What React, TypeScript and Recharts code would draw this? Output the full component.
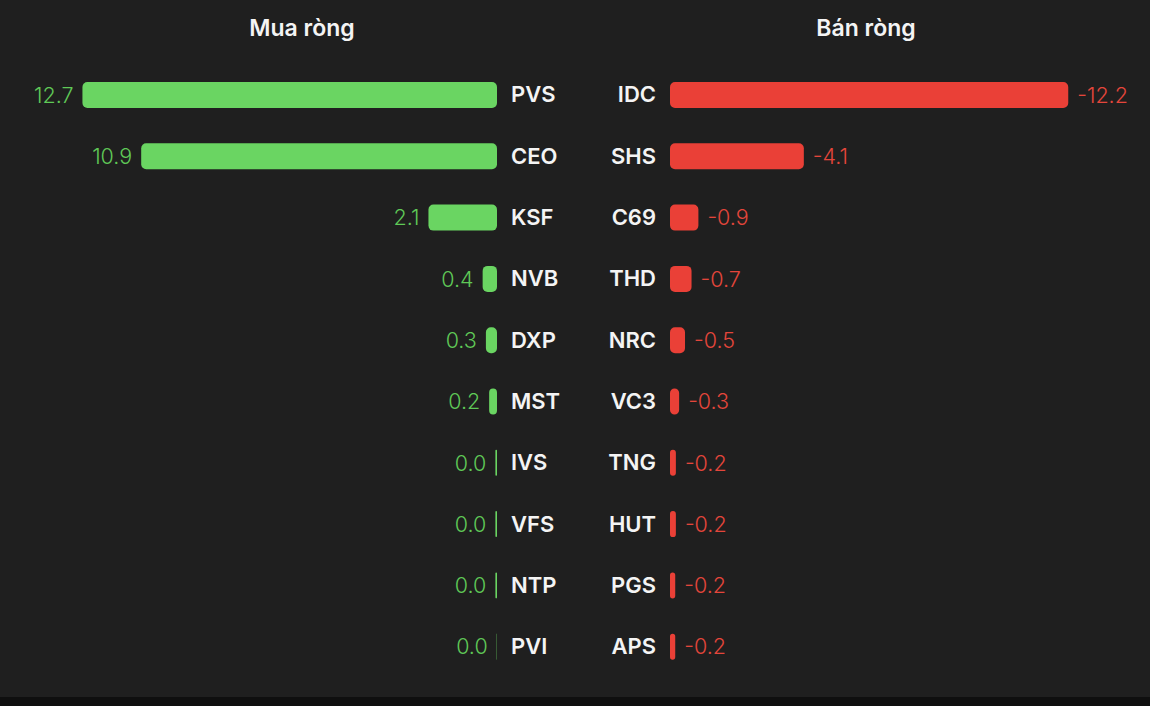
import { BarChart, Bar, XAxis, YAxis, LabelList } from 'recharts';

// Mua ròng (net buy), tỷ đồng
const buyCodes = ['PVS', 'CEO', 'KSF', 'NVB', 'DXP', 'MST', 'IVS', 'VFS', 'NTP', 'PVI'];
const buyValues = [12.7, 10.9, 2.1, 0.44, 0.34, 0.24, 0.049, 0.049, 0.049, 0.01];

// Bán ròng (net sell)
const sellCodes = ['IDC', 'SHS', 'C69', 'THD', 'NRC', 'VC3', 'TNG', 'HUT', 'PGS', 'APS'];
const sellValues = [-12.2, -4.1, -0.87, -0.66, -0.46, -0.28, -0.18, -0.18, -0.16, -0.16];

const GREEN = '#6ad562';
const GREEN_TEXT = '#5fc957';
const RED = '#ea4037';
const RED_TEXT = '#e4463b';
const FONT = 'Inter, "Noto Sans", sans-serif';

const buyData = buyCodes.map((code, i) => ({ code, value: buyValues[i] }));
const sellData = sellCodes.map((code, i) => ({ code, value: sellValues[i] }));

// value label placed just past the far end of the bar
const makeLabel = (side: 'left' | 'right', color: string) => (props: any) => {
    const { x, y, width, height, value } = props;
    const x0 = Math.min(x, x + width);
    const x1 = Math.max(x, x + width);
    const tx = side === 'left' ? x0 - 9 : x1 + 9;
    return (
        <text
            x={tx}
            y={y + height / 2}
            dy="0.36em"
            textAnchor={side === 'left' ? 'end' : 'start'}
            fill={color}
            fontSize={21.5}
            fontWeight={300}
        >
            {Number(value).toFixed(1)}
        </text>
    );
};

const tickStyle = { fill: '#f4f4f4', fontSize: 22, fontWeight: 600 };

function Title({ text, center }: { text: string; center: number }) {
    return (
        <div style={{
            position: 'absolute',
            left: center - 150,
            top: 12,
            width: 300,
            textAlign: 'center',
            color: '#f4f4f4',
            fontSize: 23,
            fontWeight: 600,
            lineHeight: '32px'
        }}>
            {text}
        </div>
    );
}

export default function App() {
    return (
        <div style={{
            position: 'absolute',
            left: 0,
            top: 0,
            width: 1150,
            height: 706,
            background: '#1f1f1f',
            fontFamily: FONT,
            overflow: 'hidden'
        }}>
            <Title text="Mua ròng" center={302} />
            <Title text="Bán ròng" center={866} />

            <div style={{ position: 'absolute', left: 0, top: 0 }}>
                <BarChart
                    layout="vertical"
                    width={600}
                    height={706}
                    data={buyData}
                    margin={{ top: 64, right: 13, bottom: 29, left: 40 }}
                >
                    <XAxis type="number" hide domain={[0, 14]} reversed allowDataOverflow />
                    <YAxis
                        type="category"
                        dataKey="code"
                        orientation="right"
                        width={90}
                        axisLine={false}
                        tickLine={false}
                        tickSize={0}
                        tickMargin={14}
                        tick={tickStyle}
                        interval={0}
                    />
                    <Bar dataKey="value" fill={GREEN} barSize={26} radius={5} isAnimationActive={false}>
                        <LabelList dataKey="value" content={makeLabel('left', GREEN_TEXT)} />
                    </Bar>
                </BarChart>
            </div>

            <div style={{ position: 'absolute', left: 575, top: 0 }}>
                <BarChart
                    layout="vertical"
                    width={575}
                    height={706}
                    data={sellData}
                    margin={{ top: 64, right: 23, bottom: 29, left: 10 }}
                >
                    <XAxis type="number" hide domain={[-14, 0]} reversed allowDataOverflow />
                    <YAxis
                        type="category"
                        dataKey="code"
                        orientation="left"
                        width={85}
                        axisLine={false}
                        tickLine={false}
                        tickSize={0}
                        tickMargin={14}
                        tick={tickStyle}
                        interval={0}
                    />
                    <Bar dataKey="value" fill={RED} barSize={26} radius={5} isAnimationActive={false}>
                        <LabelList dataKey="value" content={makeLabel('right', RED_TEXT)} />
                    </Bar>
                </BarChart>
            </div>

            <div style={{
                position: 'absolute',
                left: 0,
                top: 697,
                width: 1150,
                height: 9,
                background: '#0f0f0f'
            }} />
        </div>
    );
}
